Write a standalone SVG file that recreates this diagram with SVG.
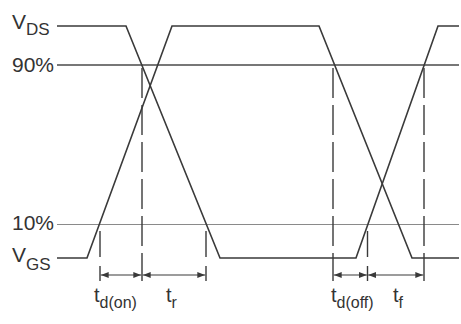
<svg xmlns="http://www.w3.org/2000/svg" width="461" height="324" viewBox="0 0 461 324">
<style>
.wave{fill:none;stroke:#3a3a3a;stroke-width:1.6;stroke-linejoin:miter}
.lvl90{stroke:#4a4a4a;stroke-width:1.5}
.lvl10{stroke:#8a8a8a;stroke-width:1.2}
.dash{stroke:#3a3a3a;stroke-width:1.4;stroke-dasharray:30 7}
.sdash{stroke:#3a3a3a;stroke-width:1.4;stroke-dasharray:26 9}
.dim{stroke:#3a3a3a;stroke-width:1.2;marker-start:url(#ah);marker-end:url(#ah)}
text{font-family:"Liberation Sans",Arial,sans-serif;fill:#333}
.big{font-size:21px}
.sub{font-size:17px}
.t{font-size:20px}
.ts{font-size:16px}
</style>
<defs>
<marker id="ah" viewBox="0 0 8 6" refX="8" refY="3" markerWidth="8" markerHeight="6" markerUnits="userSpaceOnUse" orient="auto-start-reverse">
<path d="M0,0 L8,3 L0,6 Z" fill="#3a3a3a"/>
</marker>
</defs>
<g id="levels">
<line class="lvl90" x1="57" y1="65" x2="459" y2="65"/>
<line class="lvl10" x1="57" y1="224.5" x2="459" y2="224.5"/>
</g>
<g id="vds">
<polyline class="wave" points="57,26 126,26 220,258 356,258 438,26 459,26"/>
</g>
<g id="vgs">
<polyline class="wave" points="57,258 87,258 172,26 319,26 412,258 459,258"/>
</g>
<g id="connectors">
<line class="sdash" x1="100" y1="231" x2="100" y2="281"/>
<line class="dash" x1="142" y1="68" x2="142" y2="281"/>
<line class="sdash" x1="206" y1="231" x2="206" y2="281"/>
<line class="dash" x1="333" y1="68" x2="333" y2="281"/>
<line class="sdash" x1="367.5" y1="231" x2="367.5" y2="281"/>
<line class="dash" x1="424" y1="68" x2="424" y2="281"/>
<line class="dim" x1="100.7" y1="275" x2="141.3" y2="275"/>
<line class="dim" x1="142.7" y1="275" x2="205.3" y2="275"/>
<line class="dim" x1="333.7" y1="275" x2="366.8" y2="275"/>
<line class="dim" x1="368.2" y1="275" x2="423.3" y2="275"/>
</g>
<g id="labels">
<text x="12" y="28.5" class="big">V<tspan class="sub" dy="6.5">DS</tspan></text>
<text x="12" y="72" class="big">90%</text>
<text x="12" y="230" class="big">10%</text>
<text x="12" y="262" class="big">V<tspan class="sub" dy="7.5">GS</tspan></text>
<text x="94" y="302" class="t">t<tspan class="ts" dy="6">d(on)</tspan></text>
<text x="166" y="302" class="t">t<tspan class="ts" dy="6">r</tspan></text>
<text x="331" y="302" class="t">t<tspan class="ts" dy="6">d(off)</tspan></text>
<text x="393" y="302" class="t">t<tspan class="ts" dy="6">f</tspan></text>
</g>
</svg>
